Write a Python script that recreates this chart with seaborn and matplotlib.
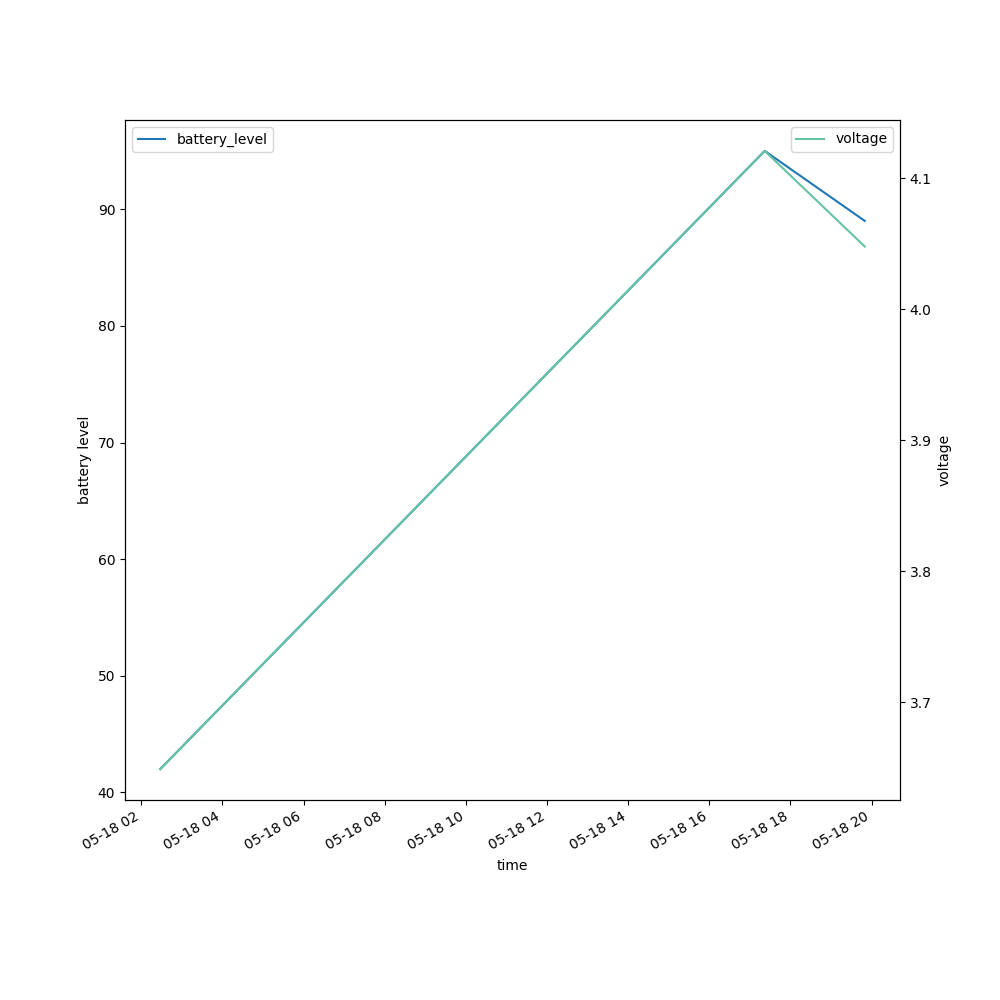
import pandas as pd
import matplotlib
matplotlib.use('Agg')
import matplotlib.pyplot as plt
import matplotlib.dates as mdates
import seaborn as sns

# readings taken on 2023-05-18
times = ['2023-05-18 02:28', '2023-05-18 17:22', '2023-05-18 19:50']
battery_level = [42, 95, 89]
voltage = [3.649, 4.121, 4.048]

df = pd.DataFrame({
    'time': pd.to_datetime(times),
    'battery_level': battery_level,
    'voltage': voltage,
})

fig, ax = plt.subplots(figsize=(10, 10), dpi=100)

sns.lineplot(data=df, x='time', y='battery_level', ax=ax,
             color='tab:blue', label='battery_level')
ax.set_ylabel('battery level')
ax.set_xlabel('time')
ax.legend(loc='upper left')

ax2 = ax.twinx()
sns.lineplot(data=df, x='time', y='voltage', ax=ax2,
             color='#66c2a5', label='voltage')
ax2.set_ylabel('voltage')
ax2.legend(loc='upper right')

ax.xaxis.set_major_locator(mdates.HourLocator(interval=2))
ax.xaxis.set_major_formatter(mdates.DateFormatter('%m-%d %H'))
fig.autofmt_xdate()

plt.savefig('out.png')
